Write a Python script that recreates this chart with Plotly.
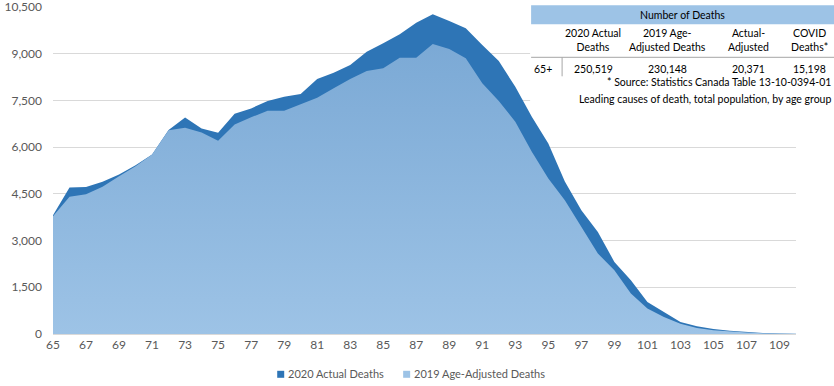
import plotly.graph_objects as go

ages = list(range(65, 111))
actual_2020 = [3815, 4705, 4720, 4886, 5123, 5423, 5766, 6550, 6955, 6601,
               6462, 7070, 7245, 7480, 7618, 7705, 8187, 8390, 8637, 9064,
               9334, 9623, 9997, 10266, 10051, 9817, 9280, 8765, 7940, 6975,
               6120, 4900, 3976, 3279, 2314, 1726, 1029, 707, 386, 247,
               161, 105, 65, 35, 15, 5]
adjusted_2019 = [3780, 4404, 4490, 4725, 5069, 5390, 5766, 6547, 6622, 6472,
                 6205, 6730, 6960, 7168, 7168, 7373, 7586, 7888, 8187, 8444,
                 8531, 8872, 8872, 9312, 9151, 8852, 8049, 7480, 6815, 5850,
                 4995, 4298, 3440, 2584, 2047, 1298, 816, 547, 333, 193,
                 119, 75, 45, 25, 10, 3]

series_names = ["2020 Actual Deaths", "2019 Age-Adjusted Deaths"]
table_title = "Number of Deaths"
table_cols = ["2020 Actual<br>Deaths", "2019 Age-<br>Adjusted Deaths", "Actual-<br>Adjusted", "COVID<br>Deaths*"]
table_row_label = "65+"
table_values = ["250,519", "230,148", "20,371", "15,198"]
footnotes = ["* Source: Statistics Canada Table 13-10-0394-01",
             "Leading causes of death, total population, by age group"]

DARK = "#2E75B6"
LIGHT = "#9DC3E6"
FONT = "Lato"

fig = go.Figure()
fig.add_trace(go.Scatter(
    x=ages, y=actual_2020, name=series_names[0], mode="lines",
    line=dict(width=0, color=DARK), fill="tozeroy", fillcolor=DARK,
    showlegend=False, hoverinfo="x+y"))
fig.add_trace(go.Scatter(
    x=ages, y=adjusted_2019, name=series_names[1], mode="lines",
    line=dict(width=0, color=LIGHT), fill="tozeroy", fillcolor=LIGHT,
    fillgradient=dict(type="vertical", start=0, stop=9400,
                      colorscale=[[0, "#9DC3E6"], [1, "#7BA9D5"]]),
    showlegend=False, hoverinfo="x+y"))

L, R, T, B = 52.7, 796.0, 6.7, 333.7
W, H = R - L, B - T


def px(x):
    return (x - L) / W


def py(y):
    return (B - y) / H


shapes = [
    dict(type="rect", xref="paper", yref="paper", x0=px(530), x1=px(840),
         y0=py(107), y1=py(0), fillcolor="white", line=dict(width=0), layer="above"),
    dict(type="rect", xref="paper", yref="paper", x0=px(531), x1=px(840),
         y0=py(24), y1=py(5), fillcolor=LIGHT, line=dict(width=0), layer="above"),
    dict(type="line", xref="paper", yref="paper", x0=px(531), x1=px(840),
         y0=py(57), y1=py(57), line=dict(color="#A6A6A6", width=1), layer="above"),
    dict(type="line", xref="paper", yref="paper", x0=px(562), x1=px(562),
         y0=py(57), y1=py(76), line=dict(color="#A6A6A6", width=1), layer="above"),
]

annotations = []
tf = dict(family=FONT, size=10.5, color="#000000")
annotations.append(dict(xref="paper", yref="paper", x=px(682), y=py(14.5),
                        text=table_title, showarrow=False, font=tf,
                        xanchor="center", yanchor="middle"))
col_x = [593, 667, 748, 810]
for cx, txt, val in zip(col_x, table_cols, table_values):
    annotations.append(dict(xref="paper", yref="paper", x=px(cx), y=py(40),
                            text=txt, showarrow=False, font=tf,
                            xanchor="center", yanchor="middle"))
    annotations.append(dict(xref="paper", yref="paper", x=px(cx), y=py(69),
                            text=val, showarrow=False, font=tf,
                            xanchor="center", yanchor="middle"))
annotations.append(dict(xref="paper", yref="paper", x=px(543), y=py(69),
                        text=table_row_label, showarrow=False, font=tf,
                        xanchor="center", yanchor="middle"))
for yy, txt in zip([82, 99], footnotes):
    annotations.append(dict(xref="paper", yref="paper", x=px(833), y=py(yy),
                            text=txt, showarrow=False, font=tf,
                            xanchor="right", yanchor="middle"))

# legend (swatch + label) below the plot
legend_pos = [(277, 286), (403, 412)]
for (sx, tx), nm, col in zip(legend_pos, series_names, [DARK, LIGHT]):
    shapes.append(dict(type="rect", xref="paper", yref="paper",
                       x0=px(sx), x1=px(sx + 7), y0=py(377.5), y1=py(370.5),
                       fillcolor=col, line=dict(width=0), layer="above"))
    annotations.append(dict(xref="paper", yref="paper", x=px(tx), y=py(373.5),
                            text=nm, showarrow=False,
                            font=dict(family=FONT, size=11, color="#595959"),
                            xanchor="left", yanchor="middle"))

fig.update_layout(
    width=834, height=386,
    margin=dict(l=L, r=834 - R, t=T, b=386 - B, pad=0, autoexpand=False),
    paper_bgcolor="white", plot_bgcolor="white",
    font=dict(family=FONT, size=11, color="#595959"),
    showlegend=False,
    xaxis=dict(range=[65, 110], tick0=65, dtick=2, tickmode="linear",
               showgrid=False, zeroline=False, showline=True, automargin=False,
               linecolor="#D9D9D9", linewidth=1, ticks="", ticklen=0,
               tickfont=dict(family=FONT, size=12, color="#595959")),
    yaxis=dict(range=[0, 10501], tick0=0, dtick=1500, tickformat=",",
               tickmode="linear", automargin=False, ticklabeloverflow="allow",
               showgrid=True, gridcolor="#D9D9D9", gridwidth=1,
               zeroline=False, showline=False, ticks="",
               ticklabelstandoff=10,
               tickfont=dict(family=FONT, size=12, color="#595959")),
    shapes=shapes, annotations=annotations,
)

fig.write_html(
    "out.html",
    config={"displayModeBar": False},
    post_script="document.body.style.margin='0';document.body.style.padding='0';",
)
